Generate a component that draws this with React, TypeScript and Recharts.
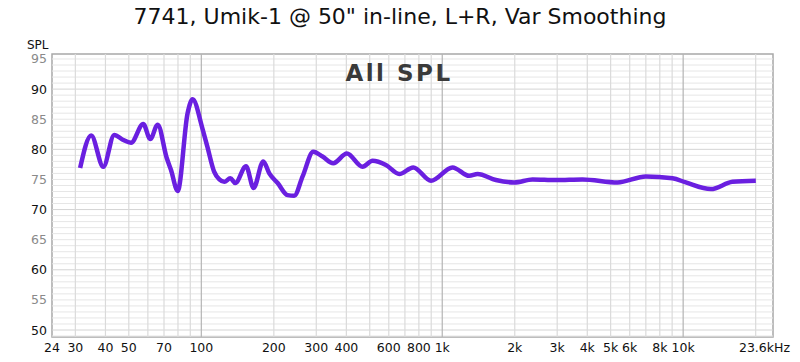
import { LineChart, Line, XAxis, YAxis, ReferenceLine, ReferenceArea } from 'recharts';

// frequency response
const FREQS = [
    31.4, 34.9, 39.2, 43.5, 47.2, 51.1, 57.4, 61.4, 65.9, 71.8, 74.8, 79.8, 87.7, 92,
    101, 106, 113, 118.8, 124.6, 131.9, 138.4, 153.3, 164.8, 180.8, 191.5, 207.4, 228, 243,
    263.3, 291.6, 318.6, 353, 402, 466.9, 513.7, 583.9, 663.2, 758, 898, 1103, 1294, 1402,
    1670, 1991, 2371, 2964, 3821, 5340, 7000, 9030, 10260, 13030, 16020, 20030,
];
const SPL = [
    76.9, 82.3, 77.1, 82.4, 81.6, 81.1, 84.2, 81.7, 84.1, 78.6, 76.6, 73.1, 86.0, 88.3,
    83.5, 80.4, 76.3, 75.0, 74.6, 75.2, 74.4, 77.2, 73.6, 78.0, 76.0, 74.4, 72.4, 72.3,
    75.5, 79.6, 78.8, 77.7, 79.3, 77.1, 78.1, 77.4, 75.9, 77.0, 74.8, 77.0, 75.6, 75.9,
    74.9, 74.5, 75.0, 74.9, 75.0, 74.5, 75.5, 75.2, 74.5, 73.4, 74.6, 74.8,
];

const X_TICKS = [24, 30, 40, 50, 70, 100, 200, 300, 400, 600, 800, 1000, 2000, 3000, 4000, 5000, 6000, 8000, 10000, 23600];
const X_LABELS = ['24', '30', '40', '50', '70', '100', '200', '300', '400', '600', '800', '1k', '2k', '3k', '4k', '5k', '6k', '8k', '10k', '23.6kHz'];
const Y_TICKS = [50, 55, 60, 65, 70, 75, 80, 85, 90, 95];

const GRID_FREQS = [
    30, 40, 50, 60, 70, 80, 90, 100, 200, 300, 400, 500, 600, 700, 800, 900, 1000,
    2000, 3000, 4000, 5000, 6000, 7000, 8000, 9000, 10000, 20000,
];
const GRID_DB = Array.from({ length: 47 }, (_, i) => 49 + i);

const X_MIN = 24;
const X_MAX = 23600;
const Y_MIN = 48.84;
const Y_MAX = 95.83;

const data = FREQS.map((f, i) => ({ f, spl: SPL[i] }));
const FONT = '"DejaVu Sans", sans-serif';

// eslint-disable-next-line @typescript-eslint/no-explicit-any
const XTick = ({ x, y, payload }: any) => {
    const idx = X_TICKS.indexOf(payload.value);
    const last = idx === X_TICKS.length - 1;
    return (
        <text x={last ? x + 17 : x} y={y + 13} textAnchor={last ? 'end' : 'middle'} fontSize={12.5} fontFamily={FONT} fill="#111">
            {X_LABELS[idx]}
        </text>
    );
};

// eslint-disable-next-line @typescript-eslint/no-explicit-any
const YTick = ({ x, y, payload }: any) => (
    <text x={x} y={y + 4.5} textAnchor="end" fontSize={12.5} fontFamily={FONT} fill={payload.value % 10 === 0 ? '#111' : '#8a8a8a'}>
        {payload.value}
    </text>
);

export default function App() {
    return (
        <div style={{ position: 'absolute', left: 0, top: 0, width: 800, height: 362, background: '#fff', fontFamily: FONT }}>
            <div style={{ position: 'absolute', left: 0, top: 4, width: 800, textAlign: 'center', fontSize: 22, color: '#111' }}>
                7741, Umik-1 @ 50" in-line, L+R, Var Smoothing
            </div>
            <div style={{ position: 'absolute', left: 27, top: 38, fontSize: 12, color: '#111' }}>SPL</div>
            <LineChart width={800} height={362} data={data} margin={{ top: 54, right: 27, bottom: 0, left: 8 }}>
                {GRID_DB.map((d) => (
                    <ReferenceLine key={`h-${d}`} y={d} stroke={d % 10 === 0 ? '#d4d4d4' : '#e6e6e6'} strokeWidth={1} ifOverflow="hidden" />
                ))}
                {GRID_FREQS.map((f) => (
                    <ReferenceLine key={`v-${f}`} x={f} stroke={f === 100 || f === 1000 || f === 10000 ? '#b4b4b4' : '#dadada'} strokeWidth={1.2} />
                ))}
                <ReferenceArea x1={X_MIN} x2={X_MAX} y1={Y_MIN} y2={Y_MAX} fill="none" stroke="#a8a8a8" strokeWidth={1.5} />
                <XAxis
                    dataKey="f"
                    type="number"
                    scale="log"
                    domain={[X_MIN, X_MAX]}
                    ticks={X_TICKS}
                    allowDataOverflow
                    axisLine={false}
                    tickLine={false}
                    tickSize={0}
                    tick={<XTick />}
                    height={25}
                    interval={0}
                />
                <YAxis
                    type="number"
                    domain={[Y_MIN, Y_MAX]}
                    ticks={Y_TICKS}
                    allowDataOverflow
                    axisLine={false}
                    tickLine={false}
                    tickSize={0}
                    tickMargin={5}
                    tick={<YTick />}
                    width={44}
                    interval={0}
                />
                <Line
                    type="monotone"
                    dataKey="spl"
                    stroke="#6a1fe0"
                    strokeWidth={4.5}
                    dot={false}
                    isAnimationActive={false}
                />
            </LineChart>
            <div style={{ position: 'absolute', left: 0, top: 60, width: 798, textAlign: 'center', fontSize: 23, letterSpacing: 2.5, color: '#3a3a3a', fontWeight: 'bold' }}>
                All SPL
            </div>
        </div>
    );
}
